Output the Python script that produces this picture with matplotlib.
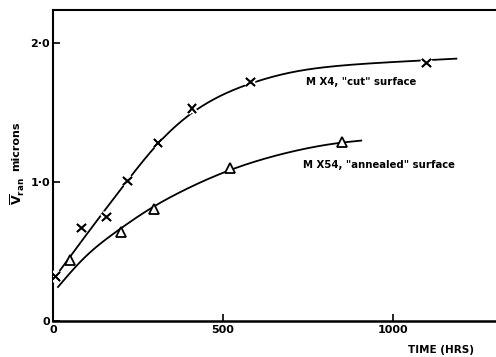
import numpy as np
import matplotlib
matplotlib.use("Agg")
import matplotlib.pyplot as plt
import matplotlib.patheffects as pe

# Measured points, "cut" surface (MX4)
cut_time = [7, 84, 157, 219, 310, 410, 581, 1099]
cut_vran = [0.32, 0.67, 0.75, 1.01, 1.28, 1.53, 1.72, 1.86]

# Measured points, "annealed" surface (MX54)
ann_time = [51, 201, 296, 522, 851]
ann_vran = [0.44, 0.64, 0.81, 1.10, 1.29]

# Hand-drawn trend curves through the data
cut_curve_t = [1, 110, 219, 310, 410, 500, 581, 700, 850, 1000, 1190]
cut_curve_v = [0.30, 0.66, 1.01, 1.28, 1.50, 1.63, 1.71, 1.79, 1.84, 1.865, 1.89]
ann_curve_t = [13, 90, 190, 287, 384, 519, 678, 851, 910]
ann_curve_v = [0.24, 0.45, 0.65, 0.81, 0.94, 1.085, 1.205, 1.285, 1.30]

x_ticks = [0, 500, 1000]
x_ticklabels = ["0", "500", "1000"]
y_ticks = [0, 1, 2]
y_ticklabels = ["0", "1·0", "2·0"]


def smooth_line(x, y, n=400):
    """Natural cubic spline through the given points, for a smooth pen line."""
    x = np.asarray(x, float)
    y = np.asarray(y, float)
    k = len(x)
    h = np.diff(x)
    A = np.zeros((k, k))
    r = np.zeros(k)
    A[0, 0] = A[-1, -1] = 1.0
    for i in range(1, k - 1):
        A[i, i - 1] = h[i - 1]
        A[i, i] = 2 * (h[i - 1] + h[i])
        A[i, i + 1] = h[i]
        r[i] = 6 * ((y[i + 1] - y[i]) / h[i] - (y[i] - y[i - 1]) / h[i - 1])
    M = np.linalg.solve(A, r)
    xs = np.linspace(x[0], x[-1], n)
    j = np.clip(np.searchsorted(x, xs) - 1, 0, k - 2)
    a = x[j + 1] - xs
    b = xs - x[j]
    hj = h[j]
    ys = (M[j] * a**3 / (6 * hj) + M[j + 1] * b**3 / (6 * hj)
          + (y[j] / hj - M[j] * hj / 6) * a
          + (y[j + 1] / hj - M[j + 1] * hj / 6) * b)
    return xs, ys


plt.rcParams["font.family"] = ["DejaVu Sans"]
plt.rcParams["font.weight"] = "bold"

fig = plt.figure(figsize=(4.96, 3.57), dpi=100)
ax = fig.add_axes([53 / 496, 36 / 357, 1 - 53 / 496, 311 / 357])

ax.set_xlim(0, 1304)
ax.set_ylim(0, 2.24)

for ct, cv in ((cut_curve_t, cut_curve_v), (ann_curve_t, ann_curve_v)):
    xs, ys = smooth_line(ct, cv)
    ax.plot(xs, ys, color="black", lw=1.3, zorder=2, solid_capstyle="butt")

halo = [pe.withStroke(linewidth=4, foreground="white"), pe.Normal()]
ax.plot(cut_time, cut_vran, linestyle="none", marker="x", ms=6, mew=1.3,
        color="black", zorder=3, path_effects=halo)
ax.plot(ann_time, ann_vran, linestyle="none", marker="^", ms=7.5, mew=1.3,
        mfc="white", mec="black", zorder=3)

ax.text(745, 1.72, 'M X4, "cut" surface', fontsize=7.3, fontweight="bold",
        ha="left", va="center")
ax.text(735, 1.12, 'M X54, "annealed" surface', fontsize=7.3, fontweight="bold",
        ha="left", va="center")

ax.set_xticks(x_ticks)
ax.set_xticklabels(x_ticklabels)
ax.set_yticks(y_ticks)
ax.set_yticklabels(y_ticklabels)
ax.tick_params(direction="in", length=5, width=1.2, labelsize=8, pad=3)
ax.tick_params(axis="y", pad=2)
for lab in ax.get_xticklabels() + ax.get_yticklabels():
    lab.set_fontweight("bold")

ax.spines["right"].set_visible(False)
ax.spines["left"].set_linewidth(1.5)
ax.spines["bottom"].set_linewidth(1.8)
ax.spines["top"].set_linewidth(1.5)

fig.text(441 / 496, 1 - 350 / 357, "TIME (HRS)", fontsize=7.5,
         fontweight="bold", ha="center", va="center")
# y-axis label: barred V with "ran" subscript, then the unit
fig.text(18 / 496, 1 - 191 / 357, r"$\overline{\mathbf{V}}_{\mathbf{ran}}$",
         fontsize=9, rotation=90, ha="center", va="center")
fig.text(16 / 496, 1 - 146 / 357, "microns", fontsize=8,
         fontweight="bold", rotation=90, ha="center", va="center")

fig.savefig("out.png", dpi=100)
